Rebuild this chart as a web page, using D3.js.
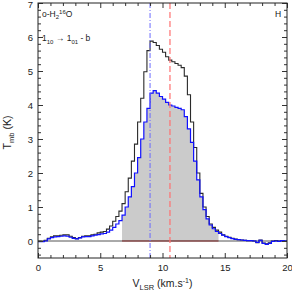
<!DOCTYPE html>
<html lang="en">
<head>
  <meta charset="UTF-8">
  <script src="https://d3js.org/d3.v7.min.js"></script>
  <style>
    body { margin: 0; background: #fff; }
    text { font-family: "Liberation Sans", Arial, sans-serif; fill: #222; }
  </style>
</head>
<body>
  <script>
    // channel left edges (km/s), 0.25 km/s wide
    const vEdge = [
      0.00, 0.25, 0.50, 0.75, 1.00, 1.25, 1.50, 1.75, 2.00, 2.25,
      2.50, 2.75, 3.00, 3.25, 3.50, 3.75, 4.00, 4.25, 4.50, 4.75,
      5.00, 5.25, 5.50, 5.75, 6.00, 6.25, 6.50, 6.75, 7.00, 7.25,
      7.50, 7.75, 8.00, 8.25, 8.50, 8.75, 9.00, 9.25, 9.50, 9.75,
      10.00, 10.25, 10.50, 10.75, 11.00, 11.25, 11.50, 11.75, 12.00, 12.25,
      12.50, 12.75, 13.00, 13.25, 13.50, 13.75, 14.00, 14.25, 14.50, 14.75,
      15.00, 15.25, 15.50, 15.75, 16.00, 16.25, 16.50, 16.75, 17.00, 17.25,
      17.50, 17.75, 18.00, 18.25, 18.50, 18.75, 19.00, 19.25, 19.50, 19.75
    ];
    // black spectrum
    const tBlack = [
      0.00, -0.01, 0.02, 0.08, 0.12, 0.15, 0.15, 0.17, 0.18, 0.18,
      0.14, 0.10, 0.07, 0.10, 0.14, 0.15, 0.15, 0.18, 0.20, 0.24,
      0.26, 0.28, 0.35, 0.44, 0.58, 0.72, 0.88, 1.10, 1.45, 1.85,
      2.35, 2.85, 3.50, 4.20, 4.98, 5.60, 5.88, 5.84, 5.75, 5.64,
      5.55, 5.42, 5.32, 5.27, 5.22, 5.17, 5.10, 4.85, 4.30, 3.50,
      2.75, 2.00, 1.40, 1.00, 0.72, 0.50, 0.40, 0.32, 0.26, 0.18,
      0.14, 0.11, 0.08, 0.06, 0.04, 0.03, 0.02, 0.01, 0.01, 0.00,
      -0.05, 0.03, -0.06, -0.08, -0.05, 0.00, 0.01, 0.00, 0.01, 0.00
    ];
    // blue spectrum
    const tBlue = [
      -0.02, -0.02, 0.00, 0.06, 0.10, 0.12, 0.13, 0.14, 0.15, 0.14,
      0.11, 0.08, 0.06, 0.09, 0.12, 0.13, 0.13, 0.15, 0.17, 0.19,
      0.21, 0.22, 0.26, 0.32, 0.40, 0.50, 0.60, 0.76, 1.00, 1.30,
      1.60, 2.00, 2.45, 3.00, 3.50, 3.90, 4.35, 4.42, 4.35, 4.25,
      4.17, 4.08, 4.00, 3.97, 3.93, 3.90, 3.86, 3.66, 3.30, 2.90,
      2.35, 1.80, 1.30, 0.92, 0.65, 0.47, 0.36, 0.28, 0.22, 0.17,
      0.13, 0.10, 0.07, 0.05, 0.04, 0.03, 0.02, 0.01, 0.01, 0.00,
      -0.04, 0.02, -0.07, -0.10, -0.07, -0.01, 0.00, -0.01, 0.01, 0.00
    ];
    const vEnd = 20;           // right edge of the last channel
    const fillRange = [6.75, 14.5];
    const vBlueLine = 9.0;
    const vRedLine = 10.6;
    const xTicks = [0, 5, 10, 15, 20];
    const yTicks = [0, 1, 2, 3, 4, 5, 6, 7];

    const width = 292, height = 292;
    const margin = { top: 3, right: 5, bottom: 34, left: 38 };

    const svg = d3.select("body").append("svg")
      .attr("width", width)
      .attr("height", height);

    const x = d3.scaleLinear().domain([0, 20]).range([margin.left, width - margin.right]);
    const y = d3.scaleLinear().domain([-0.5, 7]).range([height - margin.bottom, margin.top]);

    const pts = (t) => vEdge.map((v, i) => [v, t[i]]).concat([[vEnd, t[t.length - 1]]]);
    const black = pts(tBlack);
    const blue = pts(tBlue);

    // shaded area under blue spectrum
    const inFill = vEdge.map((v, i) => [v, tBlue[i]]).filter(d => d[0] >= fillRange[0] && d[0] < fillRange[1]);
    inFill.push([fillRange[1], inFill[inFill.length - 1][1]]);

    const area = d3.area()
      .curve(d3.curveStepAfter)
      .x(d => x(d[0]))
      .y0(y(0))
      .y1(d => y(d[1]));

    svg.append("path")
      .datum(inFill)
      .attr("d", area)
      .attr("fill", "#cbcbcb");

    // zero line
    svg.append("line")
      .attr("x1", x(0)).attr("x2", x(20))
      .attr("y1", y(0)).attr("y2", y(0))
      .attr("stroke", "#555").attr("stroke-width", 1);
    svg.append("line")
      .attr("x1", x(fillRange[0])).attr("x2", x(fillRange[1]))
      .attr("y1", y(0)).attr("y2", y(0))
      .attr("stroke", "#8b3030").attr("stroke-width", 1);

    const line = d3.line()
      .curve(d3.curveStepAfter)
      .x(d => x(d[0]))
      .y(d => y(d[1]));

    svg.append("path")
      .datum(black)
      .attr("d", line)
      .attr("fill", "none")
      .attr("stroke", "#2a2a2a")
      .attr("stroke-width", 1.1);

    svg.append("path")
      .datum(blue)
      .attr("d", line)
      .attr("fill", "none")
      .attr("stroke", "#1010ff")
      .attr("stroke-width", 1.2);

    // vertical reference lines
    svg.append("line")
      .attr("x1", x(vBlueLine)).attr("x2", x(vBlueLine))
      .attr("y1", y(7)).attr("y2", y(-0.5))
      .attr("stroke", "#6a6aff").attr("stroke-width", 1)
      .attr("stroke-dasharray", "5,2,1,2");
    svg.append("line")
      .attr("x1", x(vRedLine)).attr("x2", x(vRedLine))
      .attr("y1", y(7)).attr("y2", y(-0.5))
      .attr("stroke", "#ff7070").attr("stroke-width", 1.2)
      .attr("stroke-dasharray", "6,3");

    // axes with inward ticks
    const minorX = d3.range(0, 21, 1).filter(v => v % 5 !== 0);
    const minorY = d3.range(-0.4, 7, 0.2).filter(v => Math.abs(v - Math.round(v)) > 0.01);

    const axes = [
      [d3.axisBottom(x).tickValues(xTicks).tickSize(-5).tickPadding(6), `translate(0,${y(-0.5)})`],
      [d3.axisBottom(x).tickValues(minorX).tickSize(-3).tickFormat(""), `translate(0,${y(-0.5)})`],
      [d3.axisTop(x).tickValues(xTicks).tickSize(-5).tickFormat(""), `translate(0,${y(7)})`],
      [d3.axisTop(x).tickValues(minorX).tickSize(-3).tickFormat(""), `translate(0,${y(7)})`],
      [d3.axisLeft(y).tickValues(yTicks).tickSize(-5).tickPadding(5), `translate(${x(0)},0)`],
      [d3.axisLeft(y).tickValues(minorY).tickSize(-3).tickFormat(""), `translate(${x(0)},0)`],
      [d3.axisRight(y).tickValues(yTicks).tickSize(-5).tickFormat(""), `translate(${x(20)},0)`],
      [d3.axisRight(y).tickValues(minorY).tickSize(-3).tickFormat(""), `translate(${x(20)},0)`]
    ];
    axes.forEach(([ax, tr]) => {
      const g = svg.append("g").attr("transform", tr).call(ax);
      g.select(".domain").remove();
      g.selectAll(".tick line").attr("stroke", "#333");
      g.selectAll(".tick text").attr("font-size", 9.5).attr("fill", "#333")
        .style("font-family", "Liberation Sans, Arial, sans-serif");
    });
    // keep the top "7" label inside the picture
    svg.selectAll(".tick text").filter(d => d === 7 && this !== null)
      .filter(function () { return +this.getAttribute("x") < 0; })
      .attr("dy", "0.5em");

    svg.append("rect")
      .attr("x", x(0)).attr("y", y(7))
      .attr("width", x(20) - x(0)).attr("height", y(-0.5) - y(7))
      .attr("fill", "none").attr("stroke", "#222").attr("stroke-width", 1);

    // axis labels
    const yl = svg.append("text")
      .attr("transform", `translate(11,${(y(7) + y(-0.5)) / 2 + 2}) rotate(-90)`)
      .attr("text-anchor", "middle")
      .attr("font-size", 10.5);
    yl.append("tspan").text("T");
    yl.append("tspan").attr("font-size", 7.5).attr("dy", 2.5).text("mb");
    yl.append("tspan").attr("dy", -2.5).text(" (K)");

    const xl = svg.append("text")
      .attr("x", (x(0) + x(20)) / 2)
      .attr("y", 287)
      .attr("text-anchor", "middle")
      .attr("font-size", 10.5);
    xl.append("tspan").text("V");
    xl.append("tspan").attr("font-size", 7.5).attr("dy", 2.5).text("LSR");
    xl.append("tspan").attr("dy", -2.5).text(" (km.s");
    xl.append("tspan").attr("font-size", 7).attr("dy", -4).text("-1");
    xl.append("tspan").attr("dy", 4).text(")");

    // annotations
    const t1 = svg.append("text").attr("x", 42).attr("y", 17).attr("font-size", 8.5);
    t1.append("tspan").text("o-H");
    t1.append("tspan").attr("font-size", 6).attr("dy", 2).text("2");
    t1.append("tspan").attr("font-size", 6).attr("dy", -5).text("16");
    t1.append("tspan").attr("dy", 3).text("O");

    const t2 = svg.append("text").attr("x", 42).attr("y", 41).attr("font-size", 8.5);
    t2.append("tspan").text("1");
    t2.append("tspan").attr("font-size", 6).attr("dy", 2.5).text("10");
    t2.append("tspan").attr("dy", -2.5).text(" \u2192 1");
    t2.append("tspan").attr("font-size", 6).attr("dy", 2.5).text("01");
    t2.append("tspan").attr("dy", -2.5).text(" - b");

    svg.append("text")
      .attr("x", 275).attr("y", 17)
      .attr("font-size", 8.5)
      .style("fill", "#111")
      .text("H");
  </script>
</body>
</html>
